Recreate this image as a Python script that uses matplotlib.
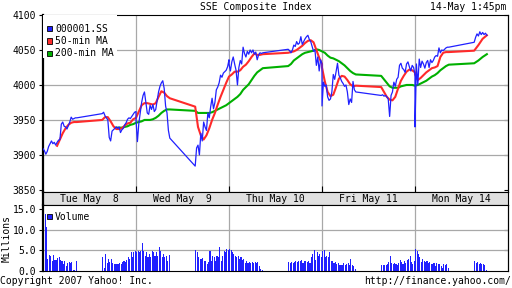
import numpy as np
import matplotlib.pyplot as plt
from matplotlib.patches import Rectangle

nan = np.nan
days = ['Tue May  8', 'Wed May  9', 'Thu May 10', 'Fri May 11', 'Mon May 14']

# 000001.SS, 5-min points, morning 9:30-11:30 and afternoon 13:00-15:00
price_am = [
    [3909, 3906, 3901, 3905, 3912, 3916, 3920, 3916, 3918, 3914, 3918, 3921, 3922,
     3944, 3947, 3941, 3940, 3937, 3942, 3947, 3954, 3951, 3952, 3953, 3953],
    [3950, 3919, 3945, 3960, 3975, 3985, 3990, 3975, 3960, 3958, 3971, 3965, 3972,
     3962, 3965, 3978, 3990, 3998, 4003, 4006, 3995, 3970, 3960, 3935, 3924],
    [4030, 4020, 4033, 4040, 4030, 4021, 4000, 4025, 4035, 4030, 4054, 4045, 4040,
     4048, 4044, 4050, 4046, 4050, 4044, 4047, 4036, 4043, 4046, 4045, 4046],
    [3970, 4004, 3998, 4000, 3983, 3978, 3980, 3990, 4015, 4008, 4019, 4031, 4014,
     4010, 4005, 4002, 3998, 4000, 3990, 3972, 3980, 3975, 4005, 3993, 3990],
    [3940, 4030, 4000, 4037, 4025, 4034, 4030, 4024, 4032, 4035, 4025, 4036, 4032,
     4035, 4040, 4042, 4041, 4053, 4046, 4050, 4049, 4051, 4053, 4054, 4054],
]
price_pm = [
    [3959, 3961, 3956, 3953, 3950, 3925, 3920, 3934, 3936, 3938, 3940, 3938, 3940,
     3932, 3936, 3938, 3943, 3946, 3951, 3953, 3952, 3955, 3958, 3961, 3962],
    [3884, 3910, 3914, 3900, 3931, 3920, 3947, 3940, 3935, 3960, 3953, 3969, 3981,
     3966, 3975, 3993, 3997, 4003, 4014, 4011, 4017, 4019, 4021, 4026, 4036],
    [4051, 4049, 4046, 4050, 4057, 4055, 4062, 4058, 4060, 4069, 4058, 4062, 4066,
     4069, 4071, 4065, 4062, 4055, 4048, 4050, 4028, 4040, 4020, 4036, 4030],
    [3985, 3986, 3984, 3985, 3983, 3980, 3955, 3985, 3990, 4004, 3998, 4008, 4011,
     4028, 4031, 4024, 4022, 4018, 4030, 4033, 4026, 4020, 4028, 4025, 4015],
    [4061, 4068, 4073, 4070, 4076, 4072, 4075, 4072, 4074, 4071],
]

# moving averages, 10-min points (Mon afternoon: 15-min, up to 13:45)
ma50_am = [
    [nan, nan, nan, nan, nan, 3913, 3922, 3931, 3938, 3943, 3946, 3947, 3947],
    [3953, 3962, 3971, 3974, 3974, 3973, 3972, 3974, 3983, 3991, 3989, 3984, 3981],
    [4012, 4015, 4019, 4019, 4021, 4026, 4029, 4034, 4040, 4045, 4043, 4043, 4044],
    [4025, 4005, 3990, 3984, 3986, 3997, 4009, 4013, 4012, 4007, 4001, 3998, 3999],
    [4015, 4007, 4010, 4014, 4018, 4021, 4024, 4025, 4027, 4040, 4046, 4047, 4047],
]
ma50_pm = [
    [3950, 3954, 3954, 3948, 3941, 3937, 3937, 3938, 3942, 3945, 3946, 3951, 3953],
    [3969, 3940, 3928, 3922, 3928, 3938, 3950, 3960, 3972, 3983, 3993, 4003, 4012],
    [4046, 4047, 4048, 4050, 4053, 4056, 4060, 4063, 4064, 4061, 4050, 4039, 4030],
    [3997, 3990, 3983, 3979, 3978, 3983, 3995, 4006, 4013, 4019, 4022, 4021, 4018],
    [4049, 4057, 4066, 4071],
]
ma200_am = [
    [nan] * 13,
    [3946, 3947, 3948, 3950, 3950, 3950, 3951, 3953, 3956, 3960, 3963, 3965, 3965],
    [3974, 3977, 3980, 3983, 3987, 3993, 3997, 4001, 4007, 4013, 4018, 4021, 4024],
    [4048, 4046, 4042, 4039, 4038, 4036, 4034, 4031, 4028, 4024, 4020, 4017, 4015],
    [3999, 4000, 4002, 4004, 4006, 4009, 4012, 4014, 4017, 4021, 4024, 4027, 4029],
]
ma200_pm = [
    [nan, nan, nan, nan, nan, 3939, 3939, 3939, 3940, 3941, 3943, 3944, 3946],
    [3963, 3960, 3960, 3960, 3960, 3960, 3961, 3963, 3965, 3967, 3969, 3971, 3974],
    [4027, 4030, 4035, 4038, 4041, 4044, 4046, 4047, 4048, 4049, 4051, 4050, 4048],
    [4013, 4008, 4003, 3998, 3996, 3996, 3996, 3998, 3999, 4000, 4000, 4000, 3999],
    [4031, 4035, 4040, 4044],
]

# volume in millions, 5-min bars
vol_am = [
    [0.0, 13.8, 10.7, 2.9, 3.9, 3.7, 2.5, 3.9, 2.6, 2.6, 3.1, 3.3, 2.6, 2.4, 1.6, 2.4,
     1.3, 2.0, 2.3, 1.9, 2.2, 0.3, 0.2, 2.4],
    [4.5, 4.9, 4.5, 4.9, 6.7, 4.9, 3.7, 4.5, 3.3, 4.1, 3.3, 4.9, 4.5, 3.7, 4.5, 3.7,
     5.9, 4.9, 3.3, 4.1, 3.3, 3.7, 2.4, 3.9],
    [5.3, 5.0, 4.5, 4.1, 3.7, 3.3, 3.7, 2.85, 3.4, 2.6, 2.85, 2.0, 2.4, 2.0, 2.3, 2.0,
     2.2, 2.0, 2.3, 2.0, 2.3, 1.2, 0.4, 0.3],
    [4.9, 5.0, 3.3, 3.7, 3.4, 4.5, 2.4, 2.4, 2.0, 2.3, 1.8, 2.0, 1.5, 1.5, 1.5, 2.0,
     1.5, 1.6, 2.0, 1.5, 2.85, 1.5, 1.2, 0.4],
    [5.3, 4.9, 4.1, 3.3, 2.3, 2.85, 2.4, 2.3, 2.4, 2.0, 2.2, 1.6, 1.8, 2.0, 1.2, 2.0,
     1.6, 1.8, 1.2, 0.7, 1.8, 1.5, 1.6, 0.7],
]
vol_pm = [
    [3.3, 0.8, 4.2, 2.0, 2.85, 2.3, 2.85, 2.0, 1.8, 1.8, 1.7, 1.6, 2.0, 1.8, 2.3, 2.4,
     2.3, 2.6, 3.3, 2.85, 4.7, 3.3, 4.7, 4.9],
    [5.0, 4.5, 3.3, 2.85, 2.85, 3.1, 2.4, 2.4, 1.8, 2.3, 4.9, 2.4, 3.7, 3.3, 2.4, 3.7,
     3.3, 5.9, 2.4, 3.7, 4.9, 4.5, 5.3, 5.0],
    [2.3, 2.0, 2.3, 2.0, 2.3, 2.4, 2.3, 2.4, 2.4, 2.6, 2.0, 2.4, 2.4, 2.3, 2.4, 2.0,
     3.3, 4.1, 5.0, 2.6, 4.5, 3.7, 4.1, 3.3],
    [1.5, 1.5, 1.5, 1.5, 1.6, 2.3, 3.7, 2.0, 1.6, 2.0, 1.8, 1.5, 2.0, 2.6, 2.3, 1.8,
     2.4, 2.0, 2.6, 2.85, 3.7, 2.3, 1.8, 2.4],
    [2.4, 2.0, 2.3, 1.8, 2.0, 1.8, 1.6, 1.5, 0.2],
]

# trading clock: 330 min per day, lunch break 11:30-13:00 kept as a gap
DAY = 330.0
PM_START = 210.0


def session(am_list, pm_list):
    xs, ys = [], []
    for d in range(len(days)):
        for start, vals in ((0.0, am_list[d]), (PM_START, pm_list[d])):
            dur = 120.0 if (d < len(days) - 1 or start == 0) else 45.0
            m = np.linspace(start, start + dur, len(vals))
            xs.append(d + m / DAY)
            ys.append(np.asarray(vals, dtype=float))
    return np.concatenate(xs), np.concatenate(ys)


BLUE = '#2020ff'
RED = '#ff2a2a'
GREEN = '#00b000'
GRID = '#a8a8a8'
FONT = 'DejaVu Sans Mono'
FS = 7

plt.rcParams['font.family'] = FONT

fig = plt.figure(figsize=(5.12, 2.88), dpi=100)


def px_axes(l, t, r, b):
    return fig.add_axes([l / 512, 1 - b / 288, (r - l) / 512, (b - t) / 288])


def px_text(x, y, s, **kw):
    fig.text(x / 512, 1 - y / 288, s, fontsize=FS, **kw)


def px_box(x, y, w, h, color):
    fig.patches.append(Rectangle((x / 512, 1 - (y + h) / 288), w / 512, h / 288,
                                 transform=fig.transFigure, facecolor=color,
                                 edgecolor='black', linewidth=0.6, zorder=10))


ax = px_axes(43, 15, 508, 192)
strip = px_axes(43, 192, 508, 205)
axv = px_axes(43, 205, 508, 271)

# price panel
ax.set_xlim(0, 5)
ax.set_ylim(3847, 4100)
for v in [3900, 3950, 4000, 4050]:
    ax.axhline(v, color=GRID, lw=0.9, zorder=1)
for d in range(1, 5):
    ax.axvline(d, color=GRID, lw=0.9, zorder=1)

x, y = session(price_am, price_pm)
ax.plot(x, y, color=BLUE, lw=0.9, zorder=3)
x, y = session(ma200_am, ma200_pm)
ax.plot(x, y, color=GREEN, lw=1.5, zorder=2)
x, y = session(ma50_am, ma50_pm)
ax.plot(x, y, color=RED, lw=1.5, zorder=2)

ax.set_yticks([3850, 3900, 3950, 4000, 4050, 4100])
ax.set_yticklabels(['3850', '3900', '3950', '4000', '4050', '4100'], fontsize=FS)
ax.tick_params(axis='y', direction='out', length=3, width=0.8, pad=2)
ax.set_xticks([1, 2, 3, 4])
ax.tick_params(axis='x', direction='in', length=4, width=0.8, labelbottom=False)
sec = ax.secondary_yaxis('right')
sec.set_yticks([3850, 3900, 3950, 4000, 4050, 4100])
sec.tick_params(direction='in', length=3, width=0.8, labelright=False)
ax.spines['left'].set_linewidth(1.6)
for s in ['top', 'right', 'bottom']:
    ax.spines[s].set_linewidth(0.8)

# legend block over the top-left corner
ax.add_patch(Rectangle((0, 1 - 43 / 177), 74 / 465, 43 / 177, transform=ax.transAxes,
                       facecolor='white', edgecolor='none', zorder=4))
for i, (lab, col) in enumerate([('000001.SS', BLUE), ('50-min MA', RED),
                                ('200-min MA', GREEN)]):
    yc = 28.5 + 12.5 * i
    px_box(47, yc - 2.5, 5, 5, col)
    px_text(55, yc, lab, va='center', ha='left', zorder=11)

# date strip
strip.set_xlim(0, 5)
strip.set_ylim(0, 1)
strip.set_facecolor('#e0e0e0')
strip.set_xticks([])
strip.set_yticks([])
for s in strip.spines.values():
    s.set_linewidth(0.8)
strip.spines['left'].set_linewidth(1.6)
for d, lab in enumerate(days):
    strip.text(d + 0.5, 0.45, lab, ha='center', va='center', fontsize=FS)

# volume panel
axv.set_xlim(0, 5)
axv.set_ylim(0, 16)
for v in [5, 10]:
    axv.axhline(v, color=GRID, lw=0.9, zorder=1)
for d in range(1, 5):
    axv.axvline(d, color=GRID, lw=0.9, zorder=1)
for d in range(len(days)):
    for start, vals in ((0.0, vol_am[d]), (PM_START, vol_pm[d])):
        m = start + 5.0 * (np.arange(len(vals)) + 0.5)
        axv.bar(d + m / DAY, vals, width=5.0 / DAY * 0.75, color=BLUE,
                linewidth=0, antialiased=False, zorder=2)
axv.set_yticks([0, 5, 10, 15])
axv.set_yticklabels(['0.0', '5.0', '10.0', '15.0'], fontsize=FS)
axv.tick_params(axis='y', direction='out', length=3, width=0.8, pad=2)
axv.set_xticks([])
secv = axv.secondary_yaxis('right')
secv.set_yticks([5, 10])
secv.tick_params(direction='in', length=3, width=0.8, labelright=False)
axv.spines['left'].set_linewidth(1.6)
for s in ['top', 'right', 'bottom']:
    axv.spines[s].set_linewidth(0.8)
px_box(47, 214, 5, 5, BLUE)
px_text(55, 217, 'Volume', va='center', ha='left', zorder=11)
px_text(7, 238, 'Millions', rotation=90, va='center', ha='center')

# header and footer
px_text(256, 7.5, 'SSE Composite Index', ha='center', va='center')
px_text(506, 7.5, '14-May 1:45pm', ha='right', va='center')
px_text(0, 281, 'Copyright 2007 Yahoo! Inc.', ha='left', va='center')
px_text(511, 281, 'http://finance.yahoo.com/', ha='right', va='center')

fig.savefig('out.png', dpi=100)
